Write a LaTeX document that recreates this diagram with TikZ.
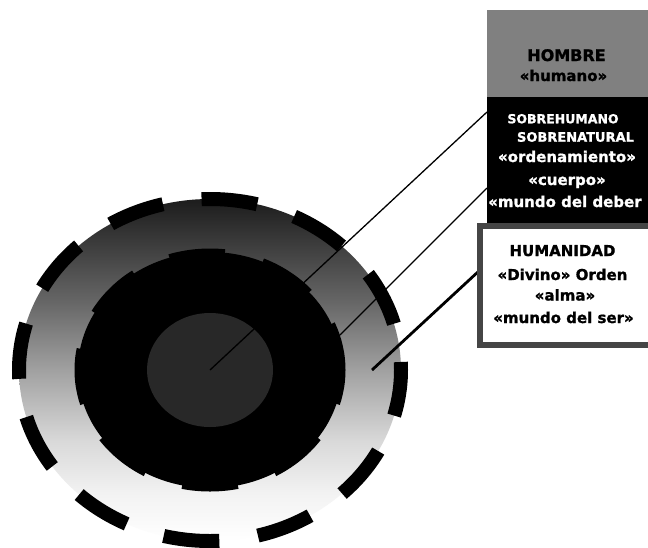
\documentclass[tikz,border=0pt]{standalone}
\usepackage{fontspec}
\newfontfamily\lblfont{DejaVu Sans}[BoldFeatures={FakeBold=1.2}]

% grey ramp of the outer ring, dark at the top and white at the bottom
\definecolor{rampA}{gray}{0.95}
\definecolor{rampB}{gray}{0.85}
\definecolor{rampC}{gray}{0.63}
\definecolor{rampD}{gray}{0.40}
\definecolor{rampE}{gray}{0.11}
\pgfdeclareverticalshading{ringfade}{100bp}{color(0bp)=(white); color(25bp)=(white);
  color(32bp)=(rampA); color(39.6bp)=(rampB); color(50bp)=(rampC);
  color(60bp)=(rampD); color(75bp)=(rampE); color(100bp)=(rampE)}

\definecolor{coregray}{HTML}{282828}
\definecolor{boxgray}{HTML}{808080}
\definecolor{framegray}{HTML}{454545}

\begin{document}
\begin{tikzpicture}[x=1pt,y=-1pt,
  lbl/.style={font=\lblfont\bfseries\fontsize{15}{18}\selectfont, inner sep=0pt, anchor=base},
  small/.style={font=\lblfont\bfseries\fontsize{12.5}{15}\selectfont, inner sep=0pt, anchor=base},
  lead/.style={line width=1.3pt, black},
  leadthick/.style={line width=2.8pt, black},
  ringdash/.style={dash pattern=on 56pt off 39pt, line cap=butt},
  panel/.style={rectangle, inner sep=0pt, outer sep=0pt, anchor=north west}]
\useasboundingbox (0,0) rectangle (648,547);
\clip (0,0) rectangle (648,547);
\fill[white] (0,0) rectangle (648,547);

\coordinate (core) at (210,370);

% outer ring with its broken border
\shade[shading=ringfade] (core) ellipse [x radius=191pt, y radius=171pt];
\draw[ringdash, line width=14pt, dash phase=48pt] (core) ellipse [x radius=191pt, y radius=171pt];

% middle disc
\fill[black] (core) ellipse [x radius=132pt, y radius=118pt];
\draw[ringdash, line width=7pt, dash phase=8.4pt] (core) ellipse [x radius=132pt, y radius=118pt];

% inner disc
\fill[coregray] (core) ellipse [x radius=63pt, y radius=57pt];

% starting points of the leader lines
\coordinate (midedge) at (340,335);
\coordinate (ringpt) at (372,370);
\coordinate (e1) at (487,112);
\coordinate (e2) at (487,188);
\coordinate (e3) at (480,270);

\draw[lead] (core) -- (e1);
\draw[lead] (midedge) -- (e2);
\draw[leadthick] (ringpt) -- (e3);

% label panels
\node[panel, fill=boxgray, minimum width=220pt, minimum height=87.5pt] (hombrebox) at (487,10) {};
\node[panel, fill=black, minimum width=220pt, minimum height=126.5pt] (sobrebox) at (487,97) {};
\node[panel, fill=white, draw=framegray, line width=6pt, minimum width=230pt, minimum height=119pt] (humbox) at (480,226) {};

% texts of the grey panel
\node[lbl, font=\lblfont\bfseries\fontsize{16}{18}\selectfont] (t1) at (566.5,61) {HOMBRE};
\node[lbl] (t2) at (563.5,81) {«humano»};

% texts of the black panel
\node[small, text=white] (t3) at (563,123.3) {SOBREHUMANO};
\node[small, text=white, font=\lblfont\bfseries\fontsize{13}{15}\selectfont] (t4) at (575.5,141.7) {SOBRENATURAL};
\node[lbl, text=white] (t5) at (567,162) {«ordenamiento»};
\node[lbl, text=white] (t6) at (567,185) {«cuerpo»};
\node[lbl, text=white, anchor=base west] (t7) at (488,207) {«mundo del deber};

% texts of the framed panel
\node[lbl] (t8) at (562.5,256) {HUMANIDAD};
\node[lbl] (t9) at (562.5,280) {«Divino» Orden};
\node[lbl] (t10) at (565,300.5) {«alma»};
\node[lbl] (t11) at (563.5,323) {«mundo del ser»};
\end{tikzpicture}
\end{document}
